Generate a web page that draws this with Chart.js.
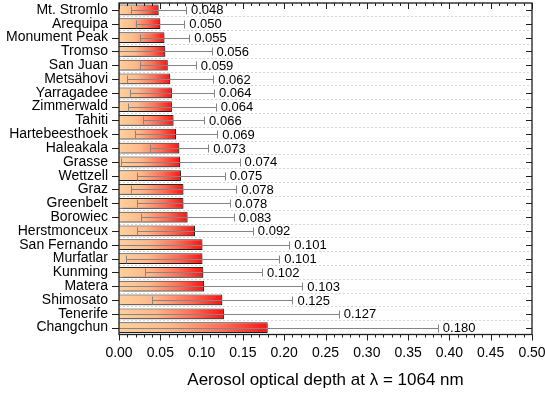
<!DOCTYPE html>
<html><head><meta charset="utf-8">
<script src="https://cdn.jsdelivr.net/npm/chart.js@4"></script>
<style>html,body{margin:0;padding:0;background:#fff}</style>
</head><body>
<canvas id="c" width="545" height="397"></canvas>
<script>
const stations = ['Mt. Stromlo','Arequipa','Monument Peak','Tromso','San Juan','Metsähovi','Yarragadee','Zimmerwald','Tahiti','Hartebeesthoek','Haleakala','Grasse','Wettzell','Graz','Greenbelt','Borowiec','Herstmonceux','San Fernando','Murfatlar','Kunming','Matera','Shimosato','Tenerife','Changchun'];
const aod = [0.048,0.050,0.055,0.056,0.059,0.062,0.064,0.064,0.066,0.069,0.073,0.074,0.075,0.078,0.078,0.083,0.092,0.101,0.101,0.102,0.103,0.125,0.127,0.180];
const aodErr = [0.033,0.029,0.030,0.056,0.034,0.052,0.051,0.053,0.037,0.050,0.035,0.072,0.053,0.064,0.056,0.056,0.070,0.105,0.093,0.071,0.119,0.085,0.139,0.206];
const xTicks = ['0.00','0.05','0.10','0.15','0.20','0.25','0.30','0.35','0.40','0.45','0.50'];
const axisTitle = 'Aerosol optical depth at λ = 1064 nm';
const FONT = 'Liberation Sans, Arial, sans-serif';

function barGradient(c){
  const chart = c.chart, ca = chart.chartArea;
  if(!ca || c.type !== 'data') return '#ff7050';
  const xs = chart.scales.x;
  const x0 = xs.getPixelForValue(0), x1 = xs.getPixelForValue(aod[c.dataIndex]);
  const g = chart.ctx.createLinearGradient(x0,0,x1,0);
  g.addColorStop(0,'#ffd19d');
  g.addColorStop(0.35,'#ffb88a');
  g.addColorStop(0.7,'#ff6d56');
  g.addColorStop(1,'#ff1212');
  return g;
}

const shadowPlugin = {
  id:'shadow',
  beforeDatasetsDraw(chart){
    const ctx = chart.ctx; ctx.save();
    ctx.shadowColor='rgba(0,0,0,0.3)'; ctx.shadowOffsetX=1.5; ctx.shadowOffsetY=1.5; ctx.shadowBlur=1;
  },
  afterDatasetsDraw(chart){ chart.ctx.restore(); }
};

const errPlugin = {
  id:'errbars',
  afterDatasetsDraw(chart){
    const ctx = chart.ctx, ca = chart.chartArea, xs = chart.scales.x;
    const meta = chart.getDatasetMeta(0);
    ctx.save();
    ctx.beginPath(); ctx.rect(ca.left, ca.top, ca.right-ca.left, ca.bottom-ca.top); ctx.clip();
    ctx.strokeStyle = '#858585'; ctx.lineWidth = 1;
    meta.data.forEach((bar,i)=>{
      const y = Math.round(bar.y)+0.5;
      const loV = aod[i]-aodErr[i], hiV = aod[i]+aodErr[i];
      const lo = Math.round(xs.getPixelForValue(Math.max(loV,0)))+0.5;
      const hi = Math.round(xs.getPixelForValue(hiV))+0.5;
      ctx.beginPath(); ctx.moveTo(lo,y); ctx.lineTo(hi,y);
      ctx.moveTo(hi,y-4); ctx.lineTo(hi,y+4);
      if(loV > 0.001){ ctx.moveTo(lo,y-4); ctx.lineTo(lo,y+4); }
      ctx.stroke();
    });
    ctx.restore();
    ctx.save();
    ctx.fillStyle = '#000'; ctx.font = '13px '+FONT; ctx.textBaseline='middle'; ctx.textAlign='left';
    meta.data.forEach((bar,i)=>{
      const hi = xs.getPixelForValue(aod[i]+aodErr[i]);
      ctx.fillText(aod[i].toFixed(3), hi+5, bar.y+1);
    });
    ctx.restore();
  }
};

const framePlugin = {
  id:'frame',
  afterDraw(chart){
    const ctx = chart.ctx, ca = chart.chartArea, xs = chart.scales.x;
    const meta = chart.getDatasetMeta(0);
    ctx.save();
    ctx.strokeStyle = '#1e1e1e'; ctx.lineWidth = 1.3;
    ctx.strokeRect(ca.left, ca.top, ca.right-ca.left, ca.bottom-ca.top);
    ctx.lineWidth = 1;
    ctx.beginPath();
    for(let k=0;k<=50;k++){
      const px = Math.round(xs.getPixelForValue(k/100))+0.5;
      const len = (k%5===0)?6:3;
      ctx.moveTo(px, ca.bottom); ctx.lineTo(px, ca.bottom+len);
      ctx.moveTo(px, ca.top); ctx.lineTo(px, ca.top+len);
    }
    meta.data.forEach(bar=>{
      const y = Math.round(bar.y)+0.5;
      ctx.moveTo(ca.left-7, y); ctx.lineTo(ca.left, y);
      ctx.moveTo(ca.right-6, y); ctx.lineTo(ca.right, y);
    });
    ctx.stroke();
    ctx.restore();
  }
};

function noPad(s){ s.paddingLeft = 0; s.paddingRight = 0; s.paddingTop = 0; s.paddingBottom = 0; }

new Chart(document.getElementById('c'), {
  type:'bar',
  data:{labels:stations, datasets:[{data:aod, backgroundColor:barGradient, borderColor:'#2a2a2a', borderWidth:1, barPercentage:0.78, categoryPercentage:1}]},
  options:{
    indexAxis:'y', responsive:false, animation:false, devicePixelRatio:1,
    layout:{padding:{top:3,right:13,left:0,bottom:0}},
    plugins:{legend:{display:false}, tooltip:{enabled:false}},
    scales:{
      x:{min:0, max:0.5,
        grid:{display:false, drawTicks:false}, border:{display:false},
        ticks:{stepSize:0.05, padding:10, color:'#000', font:{family:FONT,size:14},
          callback:(v,i)=>xTicks[i]},
        title:{display:true, text:axisTitle, color:'#000', font:{family:FONT,size:17}, padding:{top:0,bottom:6}},
        afterFit:s=>{s.height = 62.5; noPad(s);}
      },
      y:{
        grid:{color:'#d6d6d6', lineWidth:1, drawTicks:false, offset:true},
        border:{display:false, dash:[2,2]},
        ticks:{padding:11, color:'#000', font:{family:FONT,size:14}, autoSkip:false},
        afterFit:s=>{s.width = 119; noPad(s);}
      }
    }
  },
  plugins:[shadowPlugin, errPlugin, framePlugin]
});
</script>
</body></html>
